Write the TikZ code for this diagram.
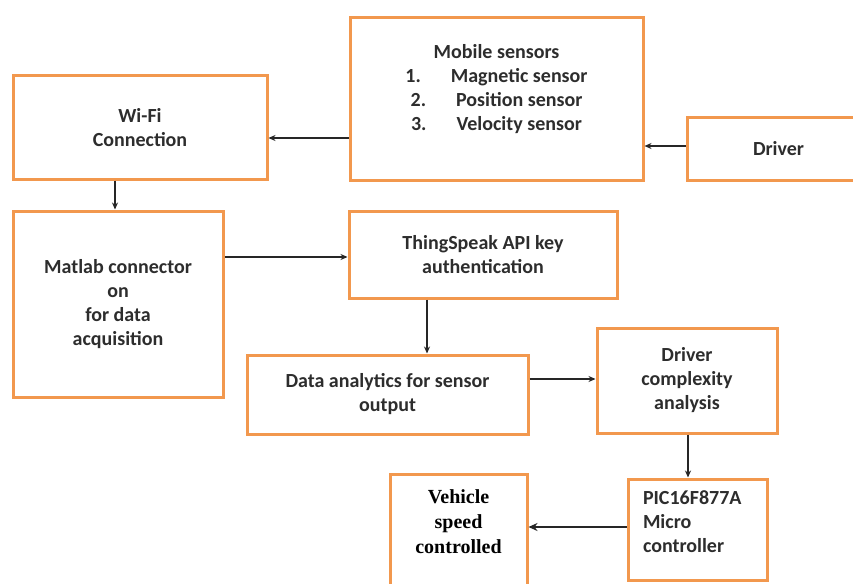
\documentclass[tikz,border=0pt]{standalone}
\usepackage{fontspec}
\setmainfont{Carlito}
\newfontfamily\timesf{Liberation Serif}
\usetikzlibrary{arrows.meta}
\definecolor{boxorange}{RGB}{242,152,78}
\definecolor{txtgray}{RGB}{45,45,45}
\begin{document}
\begin{tikzpicture}[x=1pt,y=-1pt,
  blk/.style={draw=boxorange,line width=3pt,fill=white,inner sep=0pt,
    text=txtgray,font=\fontsize{20}{24}\selectfont\bfseries,align=center},
  conn/.style={draw=black!85,line width=1.1pt,-{Stealth[length=7pt,width=6pt]}},
  connthick/.style={draw=black!85,line width=2pt,-{Stealth[length=9pt,width=8pt]}}]
\useasboundingbox (0,0) rectangle (853,583);
\clip (0,0) rectangle (853,583);
\fill[white] (0,0) rectangle (853,583);
% boxes
\node[blk,minimum width=293pt,minimum height=163pt] (mob) at (496.5,99)
  {Mobile sensors\\1.\hspace{1.5em}Magnetic sensor\\2.\hspace{1.5em}Position sensor\\3.\hspace{1.5em}Velocity sensor\\[-1pt]};
\node[blk,minimum width=254pt,minimum height=103pt] (wifi) at (140,127.5)
  {Wi-Fi\\Connection};
\node[blk,minimum width=210pt,minimum height=186pt] (mat) at (118,304)
  {Matlab connector\\on\\for data\\acquisition};
\node[blk,minimum width=268pt,minimum height=87pt] (ts) at (483,254.5)
  {ThingSpeak API key\\authentication};
\node[blk,minimum width=281pt,minimum height=79pt] (da) at (387.5,394.5)
  {Data analytics for sensor\\output};
\node[blk,minimum width=180pt,minimum height=105pt] (dc) at (687,380.5)
  {Driver\\complexity\\analysis};
\node[blk,minimum width=139pt,minimum height=101pt,align=left,text width=109pt] (pic) at (697.5,529.5)
  {PIC16F877A\\Micro\\controller\\[-8pt]\mbox{}};
\node[blk,minimum width=137pt,minimum height=140pt,font=\fontsize{20}{25}\timesf\bfseries,text=black] (veh) at (458.5,544)
  {Vehicle\\speed\\controlled\\[20pt]};
\node[blk,minimum width=200pt,minimum height=62pt,text width=180pt,align=left] (drv) at (787,149)
  {\hspace{56pt}Driver};
% connectors
\draw[conn] (mob.west |- 0,138) -- (wifi.east |- 0,138);
\draw[conn] (drv.west |- 0,146) -- (mob.east |- 0,146);
\draw[conn] (wifi.south -| 115,0) -- (mat.north -| 115,0);
\draw[conn] (mat.east |- 0,257) -- (ts.west |- 0,257);
\draw[conn] (ts.south -| 427,0) -- (da.north -| 427,0);
\draw[conn] (da.east |- 0,379) -- (dc.west |- 0,379);
\draw[conn] (dc.south -| 688,0) -- (pic.north -| 688,0);
\draw[connthick] (pic.west |- 0,527) -- (veh.east |- 0,527);
\end{tikzpicture}
\end{document}
